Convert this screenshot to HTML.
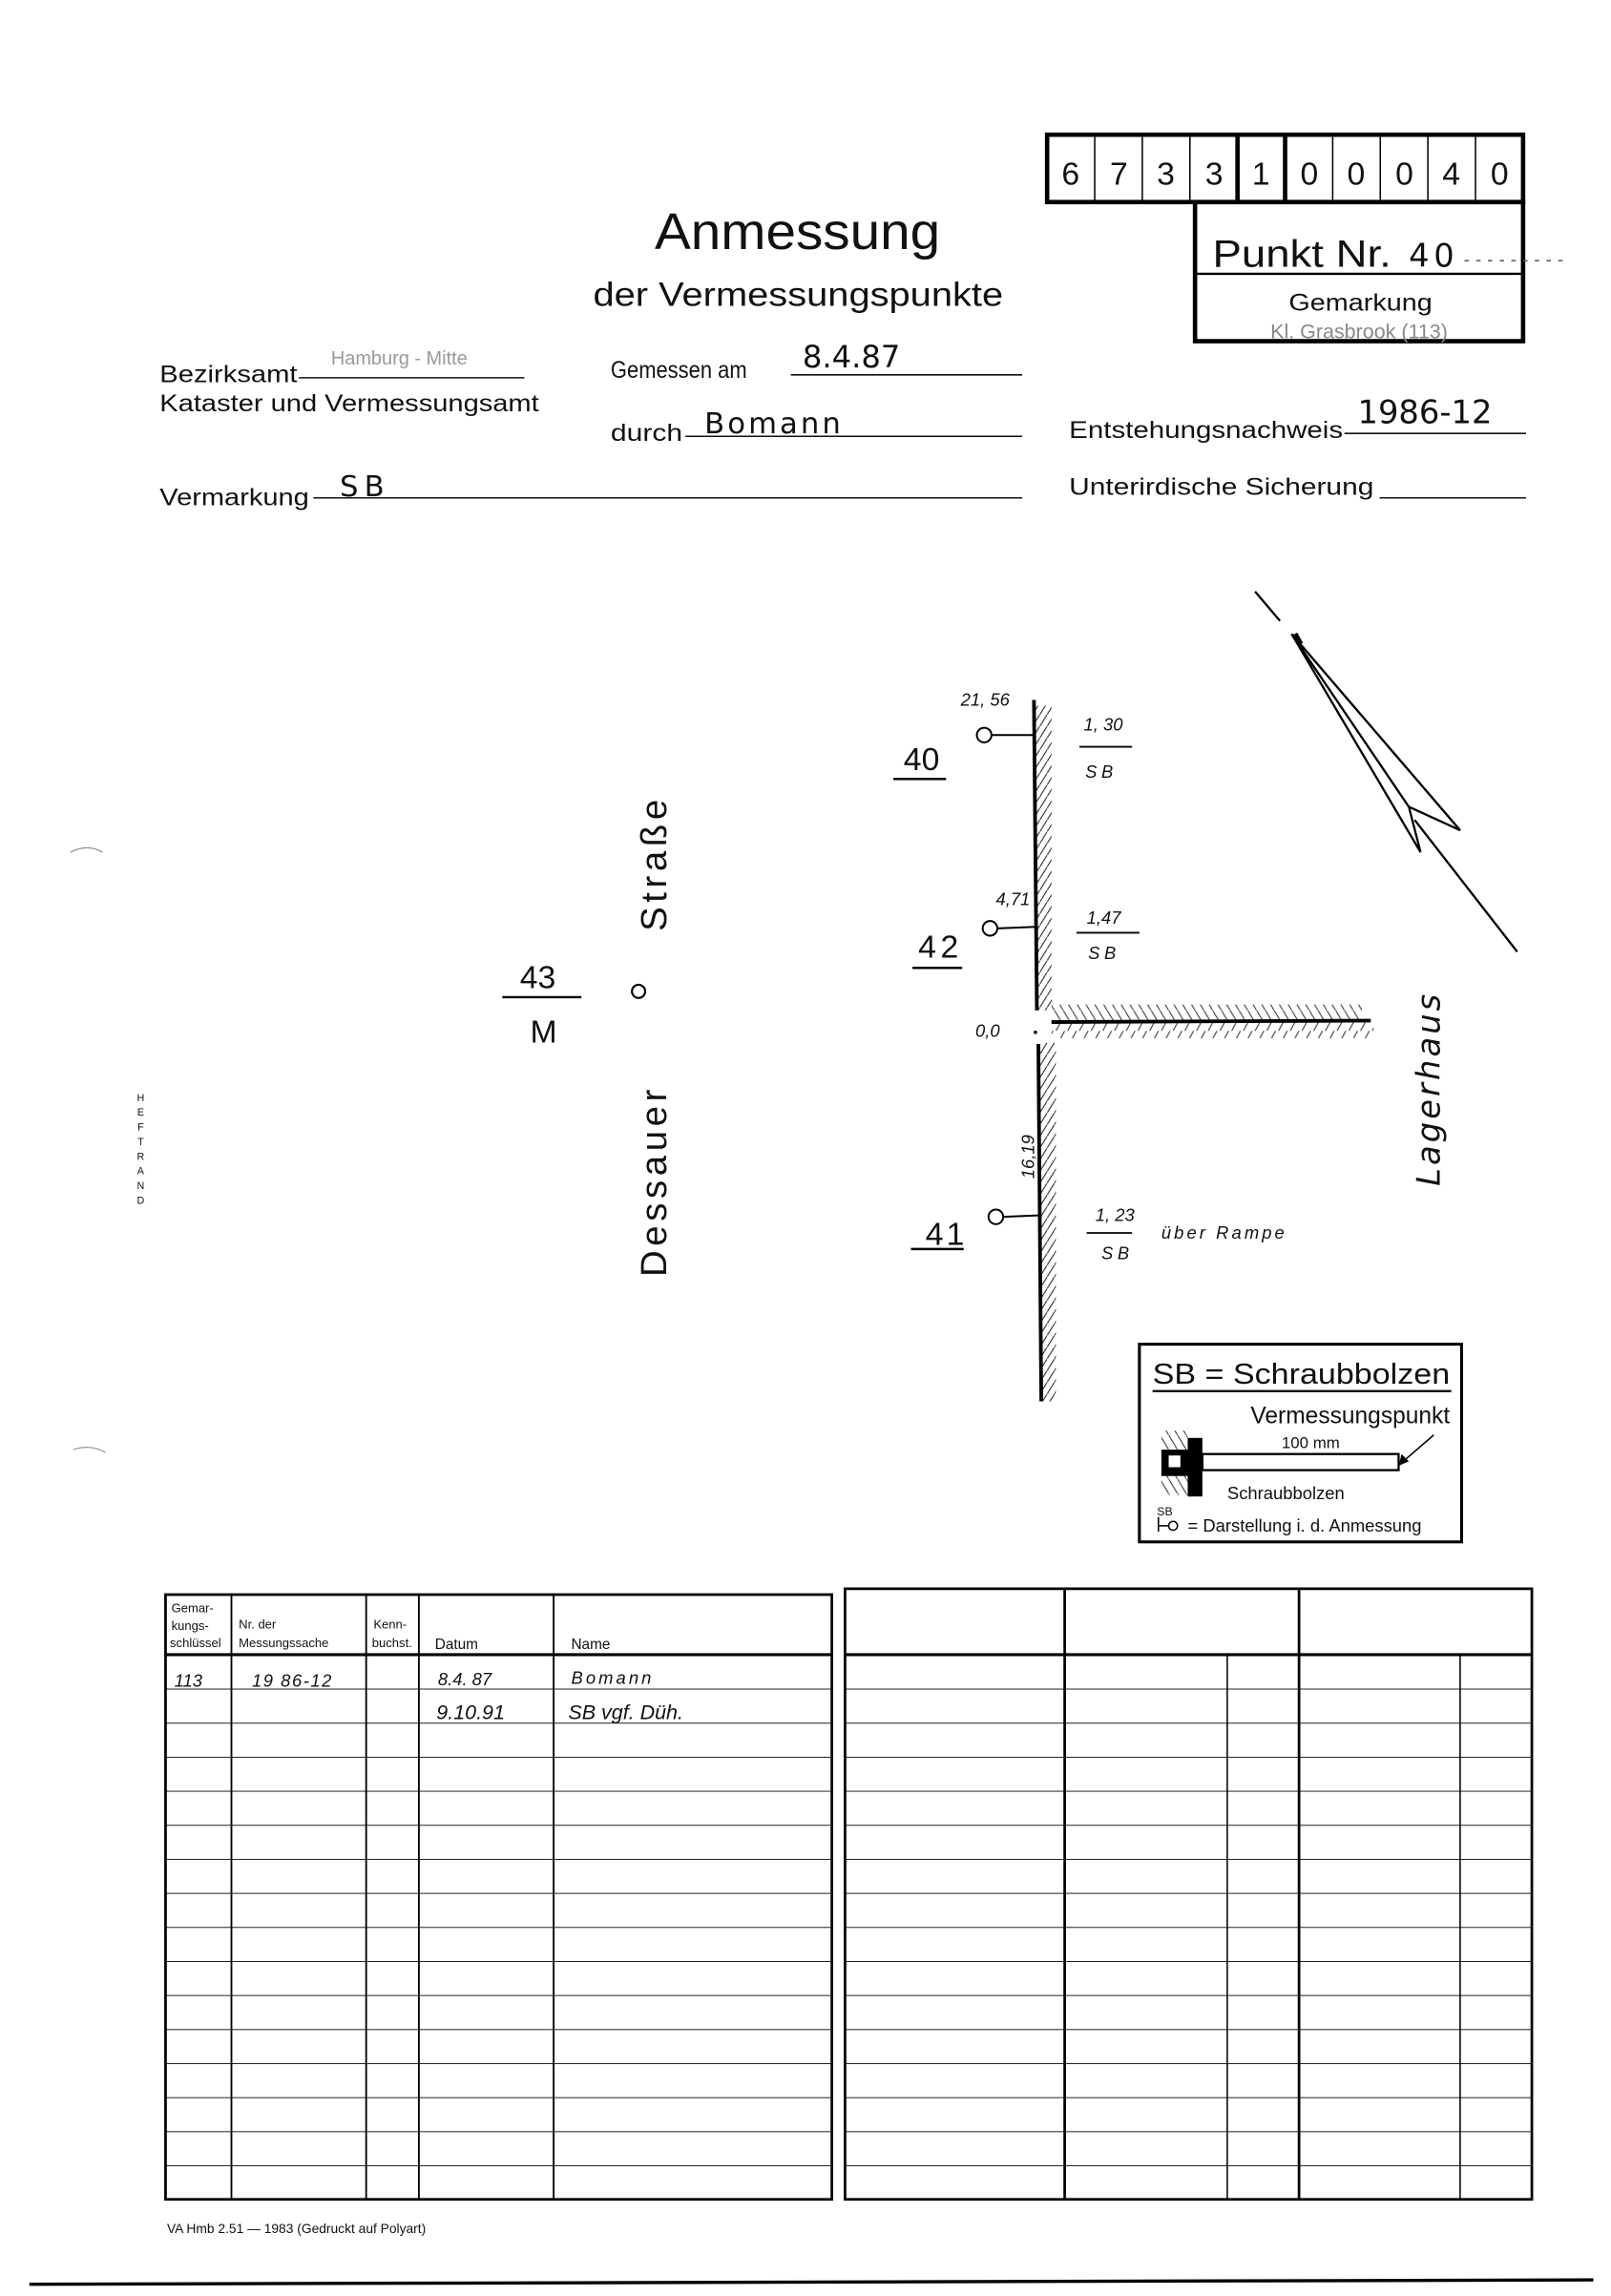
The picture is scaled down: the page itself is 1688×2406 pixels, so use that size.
<!DOCTYPE html>
<html><head><meta charset="utf-8"><style>
html,body{margin:0;padding:0;background:#fff;}
svg{display:block;}
text{font-family:"Liberation Sans","DejaVu Sans",sans-serif;fill:#111;}
.h{font-family:"DejaVu Sans","Liberation Sans",sans-serif;font-style:italic;}
.m{font-family:"DejaVu Sans","Liberation Sans",sans-serif;}
.c{font-family:"Liberation Sans Narrow","Liberation Sans",sans-serif;}
</style></head><body>
<svg width="1688" height="2406" viewBox="0 0 1100 1568" xmlns="http://www.w3.org/2000/svg">
<defs>
<pattern id="hs" width="5" height="8" patternUnits="userSpaceOnUse"><line x1="0" y1="8" x2="5" y2="0" stroke="#222" stroke-width="0.7"/></pattern>
<pattern id="hb" width="6" height="10" patternUnits="userSpaceOnUse"><line x1="0" y1="0" x2="6" y2="10" stroke="#333" stroke-width="0.7"/></pattern>
<pattern id="hv" width="8" height="11" patternUnits="userSpaceOnUse"><line x1="1" y1="11" x2="7" y2="0" stroke="#333" stroke-width="0.7"/></pattern>
<pattern id="rows" width="2000" height="23.25" patternUnits="userSpaceOnUse" y="1130"><line x1="0" y1="0" x2="2000" y2="0" stroke="#000" stroke-width="1.2"/></pattern>
</defs>

<!-- Header -->
<text x="447" y="170" font-size="35" textLength="195" lengthAdjust="spacingAndGlyphs">Anmessung</text>
<text x="405" y="209" font-size="23" textLength="280" lengthAdjust="spacingAndGlyphs">der Vermessungspunkte</text>

<text x="109" y="261" font-size="16" textLength="94" lengthAdjust="spacingAndGlyphs">Bezirksamt</text>
<line x1="204" y1="258" x2="358" y2="258" stroke="#111"/>
<text x="226" y="249" font-size="13" style="fill:#999">Hamburg - Mitte</text>
<text x="109" y="281" font-size="16" textLength="259" lengthAdjust="spacingAndGlyphs">Kataster und Vermessungsamt</text>
<text x="417" y="258" font-size="16" textLength="93" lengthAdjust="spacingAndGlyphs">Gemessen am</text>
<text x="548" y="251" font-size="21" class="m">8.4.87</text>
<line x1="540" y1="256" x2="698" y2="256" stroke="#111"/>
<text x="417" y="301" font-size="16" textLength="49" lengthAdjust="spacingAndGlyphs">durch</text>
<text x="481" y="296" font-size="20" class="m" letter-spacing="2">Bomann</text>
<line x1="468" y1="298" x2="698" y2="298" stroke="#111"/>
<text x="109" y="345" font-size="16" textLength="102" lengthAdjust="spacingAndGlyphs">Vermarkung</text>
<text x="232" y="339" font-size="20" class="m" letter-spacing="4">SB</text>
<line x1="214" y1="340" x2="698" y2="340" stroke="#111"/>

<text x="730" y="299" font-size="16" textLength="187" lengthAdjust="spacingAndGlyphs">Entstehungsnachweis</text>
<text x="927" y="289" font-size="22" class="m">1986-12</text>
<line x1="918" y1="296" x2="1042" y2="296" stroke="#111"/>
<text x="730" y="338" font-size="16" textLength="208" lengthAdjust="spacingAndGlyphs">Unterirdische Sicherung</text>
<line x1="942" y1="340" x2="1042" y2="340" stroke="#111"/>

<!-- Code box -->
<rect x="715" y="92" width="325" height="46" fill="none" stroke="#000" stroke-width="3"/>
<g stroke="#000" stroke-width="1">
<line x1="747.5" y1="92" x2="747.5" y2="138"/><line x1="780" y1="92" x2="780" y2="138"/>
<line x1="812.5" y1="92" x2="812.5" y2="138"/>
<line x1="910" y1="92" x2="910" y2="138"/><line x1="942.5" y1="92" x2="942.5" y2="138"/>
<line x1="975" y1="92" x2="975" y2="138"/><line x1="1007.5" y1="92" x2="1007.5" y2="138"/>
</g>
<line x1="845" y1="92" x2="845" y2="138" stroke="#000" stroke-width="3"/>
<line x1="877.5" y1="92" x2="877.5" y2="138" stroke="#000" stroke-width="3"/>
<g font-size="22" class="m" text-anchor="middle">
<text x="731" y="126">6</text><text x="764" y="126">7</text><text x="796" y="126">3</text><text x="829" y="126">3</text>
<text x="861" y="126">1</text><text x="894" y="126">0</text><text x="926" y="126">0</text><text x="959" y="126">0</text>
<text x="991" y="126">4</text><text x="1024" y="126">0</text>
</g>
<rect x="816" y="138" width="224" height="95" fill="none" stroke="#000" stroke-width="3"/>
<line x1="816" y1="187" x2="1040" y2="187" stroke="#000" stroke-width="1.5"/>
<text x="828" y="182" font-size="26" textLength="122" lengthAdjust="spacingAndGlyphs">Punkt Nr.</text>
<text x="962" y="182" font-size="22" class="m" letter-spacing="3">40</text>
<line x1="1000" y1="178" x2="1072" y2="178" stroke="#555" stroke-width="1" stroke-dasharray="3,5"/>
<text x="880" y="212" font-size="16" textLength="98" lengthAdjust="spacingAndGlyphs">Gemarkung</text>
<text x="928" y="231" font-size="14" text-anchor="middle" style="fill:#888">Kl. Grasbrook (113)</text>

<!-- Sketch -->
<rect x="707" y="482" width="11" height="208" fill="url(#hs)"/>
<rect x="710" y="712" width="11" height="245" fill="url(#hs)"/>
<rect x="718" y="686" width="212" height="11" fill="url(#hb)"/>
<rect x="718" y="698" width="220" height="11" fill="url(#hv)"/>
<line x1="706" y1="478" x2="708" y2="690" stroke="#000" stroke-width="2.5"/>
<line x1="709" y1="713" x2="711" y2="957" stroke="#000" stroke-width="2.5"/>
<line x1="718" y1="698" x2="936" y2="697" stroke="#000" stroke-width="2.5"/>
<circle cx="707" cy="705" r="1.2" fill="#000"/>

<g stroke="#000" stroke-width="1.3" fill="none">
<circle cx="672" cy="502" r="5"/><line x1="677" y1="502" x2="706" y2="502"/>
<circle cx="676" cy="634" r="5"/><line x1="681" y1="634" x2="707" y2="633"/>
<circle cx="680" cy="831" r="5"/><line x1="685" y1="831" x2="709" y2="830"/>
</g>
<g class="h" font-size="12">
<text x="656" y="482">21, 56</text>
<text x="680" y="618">4,71</text>
<text x="666" y="708">0,0</text>
<text x="740" y="499">1, 30</text>
<text x="741" y="531" letter-spacing="3">SB</text>
<text x="742" y="631">1,47</text>
<text x="743" y="655" letter-spacing="3">SB</text>
<text x="748" y="834">1, 23</text>
<text x="752" y="860" letter-spacing="3">SB</text>
<text x="793" y="846" letter-spacing="2">über Rampe</text>
<text transform="translate(706,805) rotate(-90)">16,19</text>
</g>
<g stroke="#000" stroke-width="1.2">
<line x1="737" y1="510" x2="773" y2="510"/>
<line x1="735" y1="637" x2="778" y2="637"/>
<line x1="742" y1="842" x2="773" y2="842"/>
</g>
<g class="m" font-size="22">
<text x="617" y="526">40</text>
<text x="627" y="654" letter-spacing="3">42</text>
<text x="632" y="850" letter-spacing="2">41</text>
<text x="355" y="675">43</text>
<text x="362" y="712">M</text>
</g>
<g stroke="#000" stroke-width="1.6">
<line x1="610" y1="532" x2="646" y2="532"/>
<line x1="623" y1="661" x2="657" y2="661"/>
<line x1="622" y1="853" x2="658" y2="853"/>
<line x1="343" y1="681" x2="397" y2="681"/>
</g>
<g class="m" font-size="25" letter-spacing="3">
<text transform="translate(455,636) rotate(-90)">Straße</text>
<text transform="translate(455,872) rotate(-90)">Dessauer</text>
</g>
<circle cx="436" cy="677" r="4.5" fill="none" stroke="#000" stroke-width="1.4"/>
<text class="h" font-size="22" letter-spacing="2" transform="translate(983,810) rotate(-90)">Lagerhaus</text>

<!-- north arrow -->
<g stroke="#000" stroke-width="1.5" fill="none" stroke-linejoin="miter">
<line x1="857" y1="404" x2="874" y2="424"/>
<path d="M882,433 L997,567 L962,551 L970,582 Z"/>
<line x1="882" y1="433" x2="962" y2="551"/>
<line x1="884" y1="433" x2="888" y2="440" stroke-width="4"/>
<line x1="966" y1="560" x2="1036" y2="650"/>
</g>

<!-- legend -->
<rect x="778" y="918" width="220" height="135" fill="none" stroke="#000" stroke-width="2"/>
<text x="787" y="945" font-size="20" textLength="203" lengthAdjust="spacingAndGlyphs">SB = Schraubbolzen</text>
<line x1="787" y1="950" x2="991" y2="950" stroke="#000" stroke-width="1.5"/>
<text x="990" y="972" font-size="16" text-anchor="end">Vermessungspunkt</text>
<text x="895" y="989" font-size="11" text-anchor="middle">100 mm</text>
<rect x="793" y="977" width="18" height="13" fill="url(#hb)"/>
<rect x="793" y="1008" width="18" height="13" fill="url(#hb)"/>
<rect x="793" y="990" width="18" height="18" fill="#000"/>
<rect x="811" y="982" width="10" height="40" fill="#000"/>
<rect x="798" y="994" width="8" height="8" fill="#fff"/>
<rect x="821" y="993" width="134" height="11" fill="#fff" stroke="#000" stroke-width="1.5"/>
<line x1="979" y1="980" x2="957" y2="999" stroke="#000" stroke-width="1"/>
<path d="M955,1001 L957,993 L962,998 Z" fill="#000"/>
<text x="838" y="1024" font-size="12">Schraubbolzen</text>
<text x="790" y="1035" font-size="8">SB</text>
<line x1="791" y1="1036" x2="791" y2="1046" stroke="#000"/>
<line x1="791" y1="1042" x2="798" y2="1042" stroke="#000"/>
<circle cx="801" cy="1042" r="3" fill="none" stroke="#000"/>
<text x="811" y="1046" font-size="12">= Darstellung i. d. Anmessung</text>

<!-- left table -->
<rect x="113" y="1130" width="455" height="372" fill="url(#rows)"/>
<rect x="113" y="1089" width="455" height="413" fill="none" stroke="#000" stroke-width="1.8"/>
<line x1="113" y1="1130" x2="568" y2="1130" stroke="#000" stroke-width="2"/>
<g stroke="#000" stroke-width="1.2">
<line x1="158" y1="1089" x2="158" y2="1502"/>
<line x1="250" y1="1089" x2="250" y2="1502"/>
<line x1="286" y1="1089" x2="286" y2="1502"/>
<line x1="378" y1="1089" x2="378" y2="1502"/>
</g>
<g class="c" font-size="8.5">
<text x="117" y="1101">Gemar-</text><text x="117" y="1113">kungs-</text><text x="116" y="1125">schlüssel</text>
<text x="163" y="1112">Nr. der</text><text x="163" y="1125">Messungssache</text>
<text x="255" y="1112">Kenn-</text><text x="254" y="1125">buchst.</text>
<text x="297" y="1126" font-size="10">Datum</text><text x="390" y="1126" font-size="10">Name</text>
</g>
<g class="h" font-size="12">
<text x="119" y="1152">113</text>
<text x="172" y="1152" letter-spacing="1">19 86-12</text>
<text x="299" y="1151">8.4. 87</text>
<text x="390" y="1150" letter-spacing="2">Bomann</text>
<text x="298" y="1174" font-size="14">9.10.91</text>
<text x="388" y="1174" font-size="14">SB vgf.  Düh.</text>
</g>

<!-- right table -->
<rect x="577" y="1130" width="469" height="372" fill="url(#rows)"/>
<rect x="577" y="1085" width="469" height="417" fill="none" stroke="#000" stroke-width="1.8"/>
<line x1="577" y1="1130" x2="1046" y2="1130" stroke="#000" stroke-width="2"/>
<g stroke="#000">
<line x1="727" y1="1085" x2="727" y2="1502" stroke-width="1.8"/>
<line x1="887" y1="1085" x2="887" y2="1502" stroke-width="1.8"/>
<line x1="838" y1="1130" x2="838" y2="1502" stroke-width="1"/>
<line x1="997" y1="1130" x2="997" y2="1502" stroke-width="1"/>
</g>

<text x="114" y="1525" font-size="9">VA Hmb 2.51 — 1983 (Gedruckt auf Polyart)</text>
<line x1="20" y1="1560" x2="1088" y2="1557" stroke="#000" stroke-width="2.2"/>

<!-- HEFTRAND -->
<g font-size="7" text-anchor="middle">
<text x="96" y="752">H</text><text x="96" y="762">E</text><text x="96" y="772">F</text><text x="96" y="782">T</text>
<text x="96" y="792">R</text><text x="96" y="802">A</text><text x="96" y="812">N</text><text x="96" y="822">D</text>
</g>
<path d="M48,582 Q60,576 70,582" fill="none" stroke="#888" stroke-width="0.8"/>
<path d="M50,990 Q62,986 72,992" fill="none" stroke="#999" stroke-width="0.8"/>
</svg>
</body></html>
